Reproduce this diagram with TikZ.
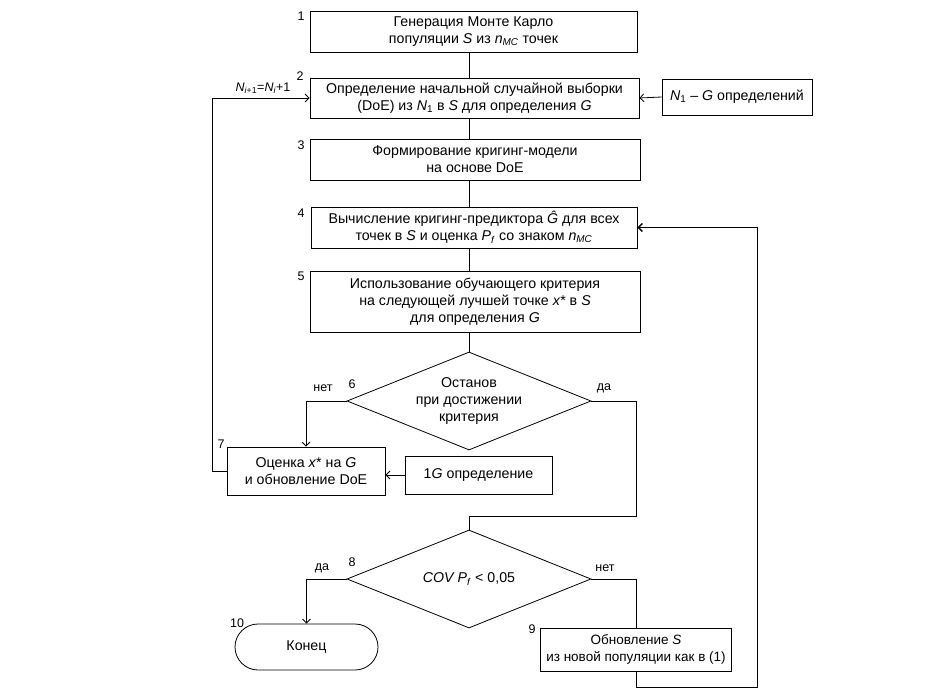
\documentclass[tikz,border=0pt]{standalone}
\usepackage{fontspec}
\setmainfont{Liberation Sans}
\usetikzlibrary{shapes.geometric,arrows.meta}
\begin{document}
\begin{tikzpicture}[x=1pt,y=-1pt,
  every node/.style={font=\fontsize{14.2}{17}\selectfont},
  box/.style={draw, line width=0.8pt, inner sep=0pt, align=center},
  dec/.style={diamond, draw, line width=0.8pt, aspect=2.5, minimum width=244pt, minimum height=98pt, inner sep=0pt, align=center},
  num/.style={font=\fontsize{12.5}{14}\selectfont, inner sep=0pt},
  conn/.style={line width=0.8pt},
  arr/.style={conn, -{Straight Barb[length=4pt,width=8pt]}}]
\useasboundingbox (0,0) rectangle (933,700);
\coordinate (spine) at (469,0);
% blocks
\node[box, minimum width=327pt, minimum height=41pt] (b1) at (473.5,31.5)
  {Генерация Монте Карло\\популяции \textit{S} из \textit{n}\textsubscript{\textit{MC}} точек};
\node[box, minimum width=329pt, minimum height=40pt] (b2) at (474.5,98)
  {Определение начальной случайной выборки\\(DoE) из \textit{N}\textsubscript{1} в \textit{S} для определения \textit{G}};
\node[box, minimum width=150pt, minimum height=36pt] (n1) at (737,97)
  {\textit{N}\textsubscript{1} – \textit{G} определений};
\node[box, minimum width=330pt, minimum height=41pt] (b3) at (475,159.5)
  {Формирование кригинг-модели\\на основе DoE};
\node[box, minimum width=326pt, minimum height=41pt] (b4) at (474,227.5)
  {Вычисление кригинг-предиктора \textit{Ĝ} для всех\\точек в \textit{S} и оценка \textit{P}\textsubscript{\textit{f}} со знаком \textit{n}\textsubscript{\textit{MC}}};
\node[box, minimum width=330pt, minimum height=61pt] (b5) at (475,301.5)
  {Использование обучающего критерия\\на следующей лучшей точке \textit{x}* в \textit{S}\\для определения \textit{G}};
\node[dec] (d6) at (469,401) {Останов\\при достижении\\критерия};
\node[box, minimum width=158pt, minimum height=48pt] (b7) at (306,471)
  {Оценка \textit{x}* на \textit{G}\\и обновление DoE};
\node[box, minimum width=147pt, minimum height=38pt] (g1) at (478.5,475)
  {1\textit{G} определение};
\node[dec] (d8) at (469,579) {\textit{COV P}\textsubscript{\textit{f}} < 0,05};
\node[box, minimum width=191pt, minimum height=43pt, font=\fontsize{13.5}{17}\selectfont] (b9) at (636,649.5)
  {Обновление \textit{S}\\из новой популяции как в (1)};
\node[box, rounded corners=23pt, minimum width=143pt, minimum height=46pt] (end) at (306.5,647)
  {Конец};
% numbers and labels
\node[num] (l1) at (301,16) {1};
\node[num] (l2) at (300,76) {2};
\node[num] (l3) at (301,145) {3};
\node[num] (l4) at (301,213) {4};
\node[num] (l5) at (301,276) {5};
\node[num] (l6) at (352,384) {6};
\node[num] (l7) at (221,444) {7};
\node[num] (l8) at (352,562) {8};
\node[num] (l9) at (532,629) {9};
\node[num] (l10) at (237,623) {10};
\node[num] (no6) at (323,388) {нет};
\node[num] (yes6) at (604,388) {да};
\node[num] (yes8) at (322,568) {да};
\node[num] (no8) at (605,568) {нет};
\node[num] (loopl) at (263,88) {\textit{N}\textsubscript{\textit{i}+1}=\textit{N}\textsubscript{\textit{i}}+1};
% coordinates
\coordinate (j1) at (636,516);
\coordinate (j2) at (757,687);
% connectors
\draw[conn] (spine |- b1.south) -- (spine |- b2.north);
\draw[conn] (spine |- b2.south) -- (spine |- b3.north);
\draw[conn] (spine |- b3.south) -- (spine |- b4.north);
\draw[conn] (spine |- b4.south) -- (spine |- b5.north);
\draw[conn] (spine |- b5.south) -- (d6.north);
\draw[arr] (n1.west) -- (b2.east);
\draw[arr] (d6.west) -| (b7.north);
\draw[arr] (g1.west) -- (g1.west -| b7.east);
\draw[arr] (b7.west) -- ++(-14,0) |- (b2.west);
\draw[conn] (d6.east) -| (j1) -| (d8.north);
\draw[arr] (d8.west) -| (end.north);
\draw[conn] (d8.east) -| (b9.north);
\draw[conn] (b9.south) |- (j2) -- (j2 |- b4.east);
\draw[arr, line width=1.4pt] (j2 |- b4.east) -- (b4.east);
\end{tikzpicture}
\end{document}
